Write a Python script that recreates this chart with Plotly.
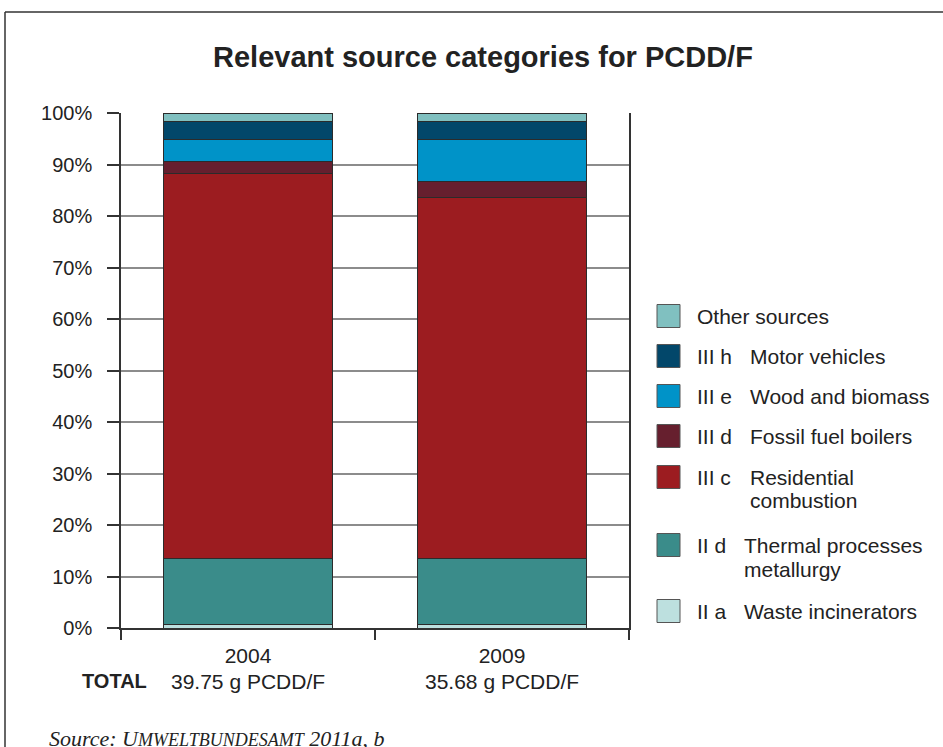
import plotly.graph_objects as go

# Source categories, bottom of the stack first
years = ["2004", "2009"]
totals = ["39.75 g PCDD/F", "35.68 g PCDD/F"]
codes = ["II a", "II d", "III c", "III d", "III e", "III h", ""]
names = [
    "Waste incinerators",
    "Thermal processes<br>metallurgy",
    "Residential<br>combustion",
    "Fossil fuel boilers",
    "Wood and biomass",
    "Motor vehicles",
    "Other sources",
]
colors = ["#bde0df", "#3a8c8a", "#9c1c20", "#661f2e", "#0093c8", "#02476a", "#80c0c0"]
share_2004 = [0.6, 12.9, 74.7, 2.3, 4.3, 3.5, 1.7]
share_2009 = [0.6, 12.9, 70.0, 3.2, 8.2, 3.4, 1.7]

W, H = 943, 747
L, R, T, B = 121, 629, 113, 628  # plot area in pixels


def px_x(p):
    return (p - L) / (R - L)


def px_y(q):
    return (B - q) / (B - T)


FONT = "Liberation Sans, Arial, sans-serif"
TXT = "#222222"

fig = go.Figure()
for i in range(len(names)):
    fig.add_trace(go.Bar(
        x=years,
        y=[share_2004[i], share_2009[i]],
        name=(codes[i] + " " + names[i].replace("<br>", " ")).strip(),
        marker=dict(color=colors[i], line=dict(color="#2b2b2b", width=1)),
        width=0.665,
        showlegend=False,
        hovertemplate="%{x}: %{y:.1f}%<extra>%{fullData.name}</extra>",
    ))

annotations = []
shapes = []

# Title
annotations.append(dict(
    text="<b>Relevant source categories for PCDD/F</b>",
    x=px_x(483), y=px_y(57), xref="paper", yref="paper",
    xanchor="center", yanchor="middle", showarrow=False,
    font=dict(family=FONT, size=29, color=TXT),
))

# Totals under the year labels (centred on each category slot)
annotations.append(dict(
    text="<b>TOTAL</b>", x=px_x(114), y=px_y(681), xref="paper", yref="paper",
    xanchor="center", yanchor="middle", showarrow=False,
    font=dict(family=FONT, size=20, color=TXT),
))
for k, tot in enumerate(totals):
    annotations.append(dict(
        text=tot, x=(k + 0.5) / len(years), y=px_y(681), xref="paper", yref="paper",
        xanchor="center", yanchor="middle", showarrow=False,
        font=dict(family=FONT, size=21, color=TXT),
    ))

# Source note
annotations.append(dict(
    text="<i>Source: U<span style='font-size:18px'>MWELTBUNDESAMT</span> 2011a, b</i>",
    x=px_x(47), y=px_y(738), xref="paper", yref="paper",
    xanchor="left", yanchor="middle", showarrow=False,
    font=dict(family="Liberation Serif, Times New Roman, serif", size=22, color=TXT),
))

# Hand-built legend, top entry = top of the stack
row_y = {6: 316, 5: 356, 4: 396, 3: 436, 2: 477, 1: 545, 0: 611}
for i in range(len(names)):
    yc = row_y[i]
    shapes.append(dict(
        type="rect", xref="paper", yref="paper",
        x0=px_x(657), x1=px_x(680), y0=px_y(yc - 11.5), y1=px_y(yc + 11.5),
        fillcolor=colors[i], line=dict(color="#555555", width=1),
    ))
    lines = names[i].split("<br>")
    if codes[i]:
        annotations.append(dict(
            text=codes[i], x=px_x(695), y=px_y(yc), xref="paper", yref="paper",
            xanchor="left", yanchor="middle", showarrow=False,
            font=dict(family=FONT, size=21, color=TXT),
        ))
        name_x = 748 if codes[i].startswith("III") else 742
    else:
        name_x = 695
    for k, line in enumerate(lines):
        annotations.append(dict(
            text=line, x=px_x(name_x), y=px_y(yc + 24 * k), xref="paper", yref="paper",
            xanchor="left", yanchor="middle", showarrow=False,
            font=dict(family=FONT, size=21, color=TXT),
        ))

# Outer frame (left and top edges)
shapes.append(dict(type="line", xref="paper", yref="paper",
                   x0=px_x(5), x1=px_x(5), y0=px_y(12), y1=px_y(760),
                   line=dict(color="#333333", width=1.5)))
shapes.append(dict(type="line", xref="paper", yref="paper",
                   x0=px_x(5), x1=px_x(960), y0=px_y(12), y1=px_y(12),
                   line=dict(color="#333333", width=1.5)))

fig.update_layout(
    width=W, height=H,
    margin=dict(l=L, r=W - R, t=T, b=H - B, pad=0),
    barmode="stack",
    plot_bgcolor="white", paper_bgcolor="white",
    font=dict(family=FONT, color=TXT),
    annotations=annotations,
    shapes=shapes,
    xaxis=dict(
        type="category", range=[-0.5, 1.5], tickson="boundaries",
        ticks="outside", ticklen=10, tickcolor="#333333", tickwidth=1.5,
        showline=True, linecolor="#333333", linewidth=1.5,
        showgrid=False, tickfont=dict(family=FONT, size=21, color=TXT),
        ticklabelstandoff=8,
    ),
    yaxis=dict(
        range=[0, 100], dtick=10, ticksuffix="%",
        ticks="outside", ticklen=12, tickcolor="#333333", tickwidth=1.5,
        showline=True, linecolor="#333333", linewidth=1.5, mirror=True,
        showgrid=True, gridcolor="#8c8c8c", gridwidth=1.5, zeroline=False,
        tickfont=dict(family=FONT, size=20, color=TXT),
        ticklabelstandoff=11,
    ),
)

fig.write_html("out.html")
